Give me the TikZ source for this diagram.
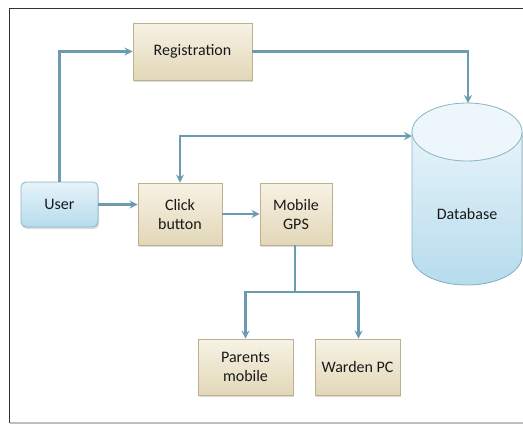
\documentclass[tikz,border=0pt]{standalone}
\usepackage{fontspec}
\setmainfont{Carlito}
\usetikzlibrary{arrows.meta,shadows}
\definecolor{lineblue}{HTML}{6A9BB0}
\definecolor{beigetop}{HTML}{F7F2E4}
\definecolor{beigebot}{HTML}{E2D7B8}
\definecolor{beigeedge}{HTML}{BDB08E}
\definecolor{bluetop}{HTML}{E6F3FA}
\definecolor{bluebot}{HTML}{B6DCEC}
\definecolor{blueedge}{HTML}{86B4C8}
\tikzset{
  lbl/.style={font=\fontsize{16}{19}\selectfont, text=black!90},
  procbox/.style={draw=beigeedge, line width=0.8pt, top color=beigetop, bottom color=beigebot,
    align=center, lbl,
    drop shadow={shadow xshift=1pt, shadow yshift=-2pt, opacity=0.35, fill=black!40}},
  userbox/.style={draw=blueedge, line width=0.8pt, top color=bluetop, bottom color=bluebot,
    rounded corners=5pt, align=center, lbl,
    drop shadow={shadow xshift=1pt, shadow yshift=-2pt, opacity=0.35, fill=black!40}},
  conn/.style={draw=lineblue, line width=2.2pt, -{Stealth[length=8pt,width=8pt]}},
  conn2/.style={draw=lineblue, line width=2.2pt, {Stealth[length=8pt,width=8pt]}-{Stealth[length=8pt,width=8pt]}},
  plain/.style={draw=lineblue, line width=2.2pt}
}
\begin{document}
\begin{tikzpicture}[x=1pt,y=-1pt]
\useasboundingbox (0,0) rectangle (523,424);
% frame
\draw[black!80, line width=1.6pt] (9.5,423) -- (9.5,8.5) -- (523,8.5);
\draw[black!25, line width=1.2pt] (9.5,423) -- (523,423);

% database cylinder
\fill[bottom color=bluebot, top color=bluetop]
  (412,132) -- (412,256) arc[start angle=180, end angle=0, x radius=55, y radius=29] -- (522,132) -- cycle;
\draw[blueedge, line width=0.8pt]
  (412,132) -- (412,256) arc[start angle=180, end angle=0, x radius=55, y radius=29] -- (522,132);
\draw[blueedge, line width=0.8pt, fill=bluetop!70!white] (467,132) ellipse[x radius=55, y radius=29];
\node[lbl] (db) at (467,214) {Database};
\coordinate (dbtop) at (468,103);
\coordinate (dbleft) at (412,136);

% boxes
\node[procbox, minimum width=119pt, minimum height=57pt] (reg) at (192.5,51.5) {Registration};
\node[userbox, minimum width=77pt, minimum height=45pt] (user) at (59.5,204.5) {User};
\node[procbox, minimum width=84pt, minimum height=62pt] (click) at (180,214) {Click\\button};
\node[procbox, minimum width=72pt, minimum height=62pt] (gps) at (296,214) {Mobile\\GPS};
\node[procbox, minimum width=95pt, minimum height=56pt] (par) at (245.5,367) {Parents\\mobile};
\node[procbox, minimum width=85pt, minimum height=56pt] (war) at (357.5,367) {Warden PC};

% connectors
\draw[conn] (user.north) |- (reg.west);
\draw[conn] (reg.east) -| (dbtop);
\draw[conn2] (click.north) |- (dbleft);
\draw[conn] (user.east) -- (user.east -| click.west);
\draw[conn] (click.east) -- (gps.west);
\coordinate (split) at (295,292);
\draw[plain] (gps.south -| split) -- (split);
\draw[conn] (split) -| (par.north);
\draw[conn] (split) -| ([xshift=1pt]war.north);
\end{tikzpicture}
\end{document}
